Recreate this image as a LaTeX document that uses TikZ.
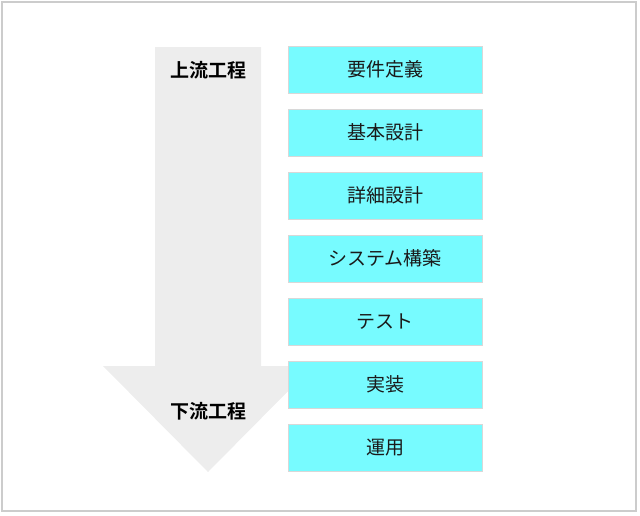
\documentclass[tikz,border=0pt]{standalone}
\usepackage{fontspec}
\newfontfamily\jp{Noto Sans CJK JP}
\newfontfamily\jpb{Noto Sans CJK JP Bold}
\definecolor{boxfill}{HTML}{77FBFF}
\definecolor{boxline}{HTML}{D8D8D8}
\definecolor{arrowfill}{HTML}{EDEDED}
\definecolor{frameline}{HTML}{CCCCCC}
\definecolor{txt}{HTML}{1A1A1A}
\tikzset{
  stepbox/.style={draw=boxline, line width=1pt, fill=boxfill, minimum width=194pt, minimum height=47pt, inner sep=0pt, font=\jp\fontsize{19pt}{22pt}\selectfont, text=txt},
  phase/.style={font=\jpb\fontsize{19pt}{22pt}\selectfont, text=black, inner sep=0pt}
}
\begin{document}
\begin{tikzpicture}[x=1pt,y=-1pt]
\useasboundingbox (0,0) rectangle (640,515);
\draw[frameline, line width=2.5pt] (1.8,1.8) rectangle (636,511);
% big arrow
\fill[arrowfill] (155,47) -- (261,47) -- (261,366) -- (313,366) -- (208,472) -- (103,366) -- (155,366) -- cycle;
\node[phase] (up) at (208,70) {上流工程};
\node[phase] (down) at (208,411) {下流工程};
\foreach \i/\t in {0/要件定義,1/基本設計,2/詳細設計,3/システム構築,4/テスト,5/実装,6/運用}{
  \node[stepbox] (s\i) at (385,{69.5+63*\i}) {\t};
}
\end{tikzpicture}
\end{document}
